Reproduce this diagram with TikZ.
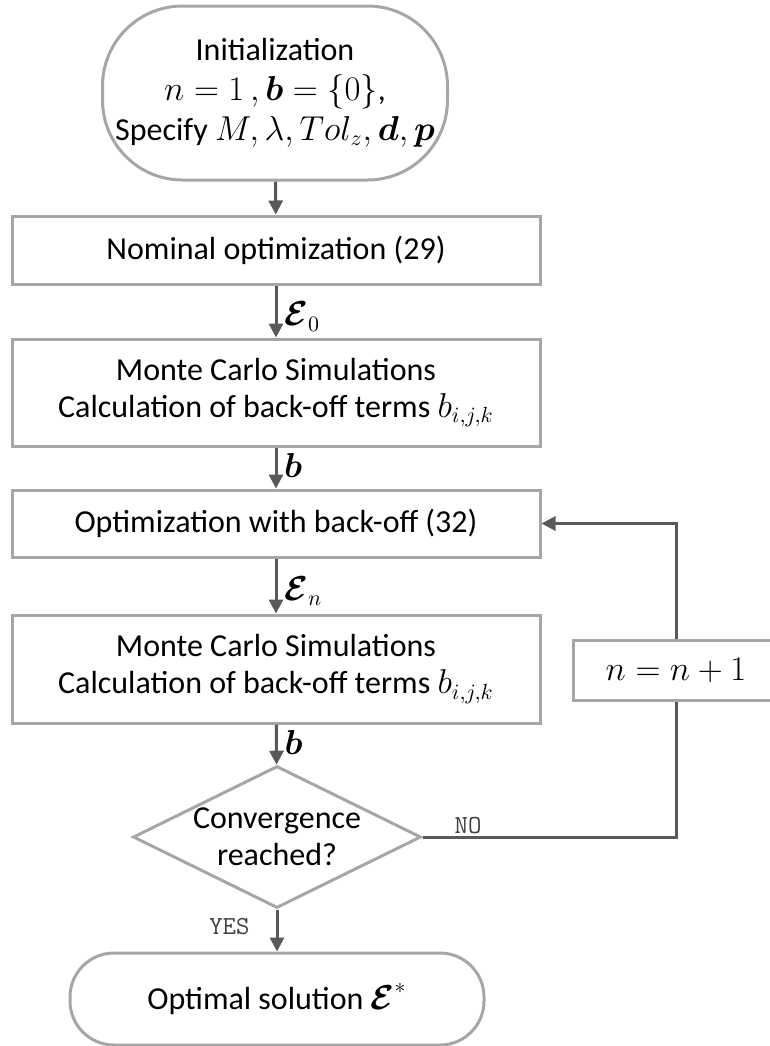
\documentclass[tikz,border=0pt]{standalone}
\usepackage{amsmath}
\usepackage{bm}
\usepackage[no-math]{fontspec}
\setmainfont{Carlito}
\usetikzlibrary{arrows.meta,shapes.geometric}
\definecolor{framegray}{HTML}{A6A6A6}
\definecolor{flowgray}{HTML}{595959}
\definecolor{taggray}{HTML}{404040}

\begin{document}
\begin{tikzpicture}[x=0.5pt, y=-0.5pt,
    font=\fontsize{16}{18.5}\selectfont,
    term/.style={draw=framegray, line width=1.5pt, rectangle, align=center, fill=white},
    box/.style={draw=framegray, line width=1.5pt, rectangle, align=center, minimum width=264pt, fill=white},
    decision/.style={draw=framegray, line width=1.5pt, diamond, aspect=2.03, align=center,
      inner sep=-4pt, minimum width=144pt, minimum height=71pt, fill=white},
    flow/.style={draw=flowgray, line width=1.5pt, -{Triangle[width=7pt,length=7pt]}},
    tag/.style={font=\ttfamily\fontsize{13}{13}\selectfont, text=taggray, inner sep=1pt}]
      \useasboundingbox (0,0) rectangle (770,1046);

      \node[term, rounded corners=40pt, minimum width=172.5pt, minimum height=87pt,
        font=\fontsize{16}{20}\selectfont] at (275, 93) (init)
        {Initialization\\ $n=1\,,\bm{b}=\{0\}$,\\ Specify $M,\lambda,Tol_z,\bm{d},\bm{p}$};
      \node[box, minimum height=34pt] at (276, 250) (nominal) {Nominal optimization (29)};
      \node[box, minimum height=53.5pt] at (276, 392.5) (mc1)
        {Monte Carlo Simulations\\ Calculation of back-off terms $b_{i,j,k}$};
      \node[box, minimum height=33.5pt] at (276, 523.5) (backoff) {Optimization with back-off (32)};
      \node[box, minimum height=54pt] at (276, 669) (mc2)
        {Monte Carlo Simulations\\ Calculation of back-off terms $b_{i,j,k}$};
      \node[decision] at (277, 837) (conv) {Convergence\\ reached?};
      \node[term, rounded corners=22pt, minimum width=207pt, minimum height=46pt] at (277, 999) (optimal)
        {Optimal solution $\bm{\mathcal{E}}^{*}$};
      \node[box, minimum width=103pt, minimum height=30pt] at (676, 670) (update) {$n=n+1$};

      \draw[flow] (init) -- (nominal);
      \draw[flow] (nominal) -- node[right, pos=0.6] {$\bm{\mathcal{E}}_0$} (mc1);
      \draw[flow] (mc1) -- node[right, pos=0.45] {$\bm{b}$} (backoff);
      \draw[flow] (backoff) -- node[right, pos=0.6] {$\bm{\mathcal{E}}_n$} (mc2);
      \draw[flow] (mc2) -- node[right, pos=0.45] {$\bm{b}$} (conv);
      \draw[flow] (conv) -- node[tag, left=12pt, pos=0.4] {YES} (optimal);
      \draw[flow, -] (conv.east) -| node[tag, above, pos=0.09] {NO} (update.south);
      \draw[flow] (update.north) |- (backoff.east);
    \end{tikzpicture}
\end{document}
